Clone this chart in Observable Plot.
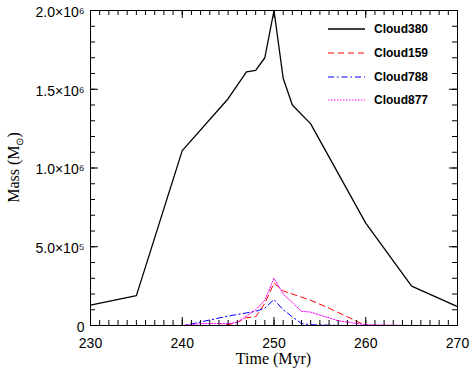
<!DOCTYPE html>
<html><head><meta charset="utf-8">
<script src="https://cdn.jsdelivr.net/npm/d3@7"></script>
<script src="https://cdn.jsdelivr.net/npm/@observablehq/plot@0.6"></script>
<style>body{margin:0;background:#fff}</style>
</head><body><div id="chart"></div>
<script>
// Data (time in Myr, mass in solar masses)
const time380 = [230,235,240,245,247,248,249,250,251,252,254,260,265,270];
const mass380 = [0.13e6,0.19e6,1.11e6,1.44e6,1.61e6,1.62e6,1.70e6,2.0e6,1.57e6,1.40e6,1.28e6,0.65e6,0.25e6,0.12e6];
const time159 = [235,240,244,245,246,247,248,249,250,251,252,254,256,258,260,265];
const mass159 = [0,0,0,0.005e6,0.02e6,0.05e6,0.055e6,0.14e6,0.27e6,0.22e6,0.20e6,0.16e6,0.11e6,0.055e6,0,0];
const time788 = [235,240,241,243,245,247,248,249,250,251,252,253,254,256,258,265];
const mass788 = [0,0,0.01e6,0.035e6,0.06e6,0.08e6,0.09e6,0.11e6,0.165e6,0.10e6,0.055e6,0.012e6,0.005e6,0.002e6,0,0];
const time877 = [235,240,242,245,246,248,249,250,251,253,254,257,260,265];
const mass877 = [0,0,0.012e6,0.012e6,0.02e6,0.10e6,0.16e6,0.30e6,0.20e6,0.09e6,0.085e6,0.03e6,0.005e6,0];

const seriesNames = ["Cloud380","Cloud159","Cloud788","Cloud877"];
const seriesColors = ["#000000","#ff0000","#0000ff","#ff00ff"];
const seriesDash = [null,"6,4","6,3,1.5,3","1.5,1.5"];
const seriesWidth = [1.3,1,1,1];
const seriesTimes = [time380,time159,time788,time877];
const seriesMasses = [mass380,mass159,mass788,mass877];

const xTicks = [230,240,250,260,270];
const xTickLabels = ["230","240","250","260","270"];
const yTicks = [0,5e5,1e6,1.5e6,2e6];
const yTickLabels = ["0","5.0×10⁵","1.0×10⁶","1.5×10⁶","2.0×10⁶"];
const xMinor = d3.range(230,271,1);
const yMinor = d3.range(0,2.0001e6,1e5);

const W = 470, H = 371, mL = 90, mR = 13, mT = 10, mB = 46;
const iw = W - mL - mR, ih = H - mT - mB;
const minorLen = 5, majorLen = 8;

const lineMarks = seriesNames.map((name,k) =>
  Plot.line(seriesTimes[k].map((t,i)=>({t, m: seriesMasses[k][i]})), {
    x: "t", y: "m", stroke: seriesColors[k], strokeWidth: seriesWidth[k],
    strokeDasharray: seriesDash[k]
  })
);

const chart = Plot.plot({
  width: W, height: H,
  marginLeft: mL, marginRight: mR, marginTop: mT, marginBottom: mB,
  style: {fontFamily: "'Liberation Sans', Arial, sans-serif", fontSize: "14px", color: "#000", background: "#fff"},
  x: {domain: [230,270], label: null},
  y: {domain: [0,2e6], label: null},
  marks: [
    ...lineMarks,
    // minor ticks
    Plot.tickX(xMinor, {x: d=>d, insetTop: ih - minorLen, stroke: "#000"}),
    Plot.tickX(xMinor, {x: d=>d, insetBottom: ih - minorLen, stroke: "#000"}),
    Plot.tickY(yMinor, {y: d=>d, insetRight: iw - minorLen, stroke: "#000"}),
    Plot.tickY(yMinor, {y: d=>d, insetLeft: iw - minorLen, stroke: "#000"}),
    // major ticks
    Plot.tickX(xTicks, {x: d=>d, insetTop: ih - majorLen, stroke: "#000"}),
    Plot.tickX(xTicks, {x: d=>d, insetBottom: ih - majorLen, stroke: "#000"}),
    Plot.tickY(yTicks, {y: d=>d, insetRight: iw - majorLen, stroke: "#000"}),
    Plot.tickY(yTicks, {y: d=>d, insetLeft: iw - majorLen, stroke: "#000"}),
    Plot.axisX(xTicks, {tickSize: 0, tickPadding: 13, label: null, fontSize: 14,
      tickFormat: d => xTickLabels[xTicks.indexOf(d)]}),
    Plot.axisY(yTicks, {tickSize: 0, tickPadding: 6, label: null, fontSize: 14, dy: 2,
      tickFormat: d => yTickLabels[yTicks.indexOf(d)]}),
    Plot.frame({stroke: "#000", strokeWidth: 1})
  ]
});

const svg = d3.select(chart);
// Axis titles
svg.append("text")
  .attr("x", mL + iw/2).attr("y", 364)
  .attr("text-anchor", "middle")
  .attr("font-family", "'Liberation Serif', 'Times New Roman', serif")
  .attr("font-size", 16).attr("fill", "#000")
  .text("Time (Myr)");
const yt = svg.append("text")
  .attr("transform", `translate(19,${mT + ih/2}) rotate(-90)`)
  .attr("text-anchor", "middle")
  .attr("font-family", "'Liberation Serif', 'Times New Roman', serif")
  .attr("font-size", 16).attr("fill", "#000");
yt.append("tspan").text("Mass (M");
yt.append("tspan").attr("font-size", 10).attr("dy", 4).text("⊙");
yt.append("tspan").attr("dy", -4).text(")");

// Legend
const lg = svg.append("g");
const rowY = [29,53,77,100];
seriesNames.forEach((name,k) => {
  lg.append("line").attr("x1", 328).attr("x2", 365).attr("y1", rowY[k]).attr("y2", rowY[k])
    .attr("stroke", seriesColors[k]).attr("stroke-width", seriesWidth[k])
    .attr("stroke-dasharray", seriesDash[k]);
  lg.append("text").attr("x", 374).attr("y", rowY[k]).attr("dy", "0.36em")
    .attr("text-anchor", "start")
    .attr("font-family", "'Liberation Sans', Arial, sans-serif").attr("font-weight", "bold")
    .attr("font-size", 12).attr("fill", "#000").text(name);
});

document.getElementById("chart").appendChild(chart);
</script>
</body></html>
